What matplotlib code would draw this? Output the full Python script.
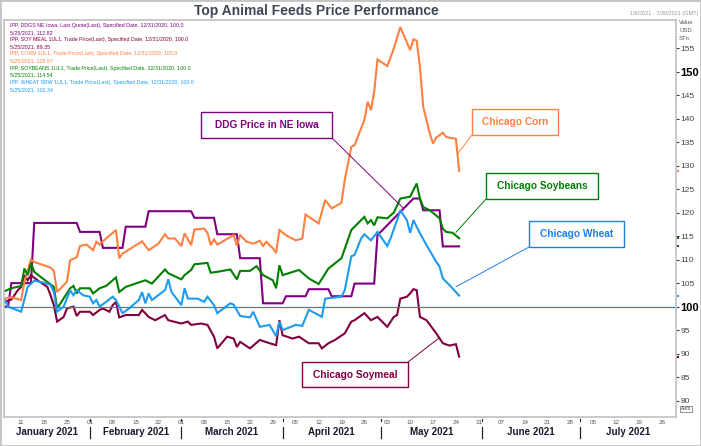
import matplotlib
matplotlib.use("Agg")
import matplotlib.pyplot as plt
import matplotlib.dates as mdates
import matplotlib.transforms as mtransforms
from matplotlib.patches import Rectangle, ConnectionPatch
import pandas as pd

plt.rcParams['font.family'] = ['Liberation Sans', 'DejaVu Sans']

title = "Top Animal Feeds Price Performance"
range_label = "1/6/2021 - 7/30/2021 (GMT)"
unit_labels = ["Value", "USD", "STn"]

# ---- data (index, 12/31/2020 = 100) ----
ddgs_dates = ["01-06", "01-07", "01-08", "01-14", "01-15", "01-28", "01-29", "02-04", "02-05",
              "02-11", "02-12", "02-18", "02-19", "03-04", "03-05", "03-11", "03-12", "03-18",
              "03-19", "03-25", "03-26", "04-01", "04-02", "04-08", "04-09", "04-15", "04-16",
              "04-22", "04-23", "04-29", "04-30", "05-11", "05-13", "05-14", "05-19", "05-20", "05-25"]
ddgs_vals = [100.0, 100.0, 105.0, 105.0, 117.8, 117.8, 115.9, 115.9, 112.5,
             112.5, 117.0, 117.0, 120.3, 120.3, 118.9, 118.9, 115.4, 115.4,
             110.3, 110.3, 100.7, 100.7, 102.2, 102.2, 103.7, 103.7, 102.2,
             102.2, 104.9, 104.9, 115.2, 123.0, 123.0, 120.5, 120.5, 112.8, 112.82]

corn_dates = ["01-06", "01-08", "01-11", "01-12", "01-14", "01-15", "01-20", "01-21", "01-22",
              "01-25", "01-26", "01-28", "01-29", "01-31", "02-02", "02-03", "02-04", "02-06",
              "02-09", "02-10", "02-11", "02-12", "02-17", "02-19", "02-22", "02-24", "02-25",
              "02-27", "03-01", "03-02", "03-04", "03-05", "03-08", "03-09", "03-10", "03-11",
              "03-12", "03-17", "03-18", "03-19", "03-21", "03-23", "03-25", "03-26", "03-27",
              "03-29", "03-30", "03-31", "04-02", "04-05", "04-07", "04-08", "04-12", "04-14",
              "04-16", "04-19", "04-20", "04-22", "04-23", "04-26", "04-27", "04-28", "04-29",
              "04-30", "05-03", "05-05", "05-07", "05-10", "05-11", "05-12", "05-13", "05-14",
              "05-16", "05-17", "05-18", "05-20", "05-21", "05-24", "05-25"]
corn_vals = [101.7, 102.0, 101.4, 105.3, 110.0, 109.5, 108.3, 107.6, 103.1,
             105.3, 109.9, 110.5, 112.9, 113.2, 112.0, 113.8, 113.2, 114.5,
             116.3, 110.3, 111.3, 111.7, 113.9, 112.0, 113.4, 115.4, 114.5,
             114.5, 112.9, 115.6, 113.1, 116.4, 116.6, 115.7, 113.1, 114.3,
             113.2, 115.2, 113.0, 115.2, 113.8, 113.4, 114.0, 112.9, 113.8,
             112.4, 111.4, 116.3, 115.2, 114.1, 114.5, 119.6, 117.7, 122.7,
             120.9, 122.1, 127.0, 134.0, 134.4, 139.7, 143.6, 141.8, 145.7,
             152.6, 151.2, 154.9, 159.5, 154.6, 156.9, 156.6, 151.0, 142.5,
             136.9, 134.7, 136.0, 137.0, 136.1, 135.7, 128.87]

soyb_dates = ["01-06", "01-08", "01-11", "01-12", "01-13", "01-14", "01-15", "01-17", "01-21",
              "01-22", "01-26", "01-27", "01-28", "01-29", "02-01", "02-02", "02-04", "02-06",
              "02-09", "02-10", "02-12", "02-18", "02-20", "02-24", "02-25", "03-01", "03-02",
              "03-04", "03-05", "03-09", "03-10", "03-12", "03-16", "03-18", "03-19", "03-22",
              "03-24", "03-26", "03-29", "03-30", "03-31", "04-01", "04-06", "04-09", "04-12",
              "04-15", "04-19", "04-22", "04-24", "04-26", "04-27", "04-28", "04-29", "04-30",
              "05-03", "05-05", "05-07", "05-10", "05-12", "05-13", "05-14", "05-16", "05-19",
              "05-20", "05-21", "05-23", "05-25"]
soyb_vals = [103.3, 103.9, 104.4, 108.1, 106.7, 109.2, 107.4, 106.3, 104.2,
             99.6, 103.9, 104.4, 102.8, 103.9, 103.9, 102.8, 103.9, 104.4,
             106.2, 103.1, 104.2, 105.6, 104.9, 107.9, 107.1, 105.8, 106.7,
             107.8, 109.0, 109.3, 107.2, 107.4, 107.9, 105.8, 107.6, 107.6,
             108.6, 106.7, 105.6, 103.9, 108.8, 106.7, 107.8, 106.0, 104.8,
             108.1, 110.3, 116.3, 117.7, 119.1, 117.7, 118.4, 117.3, 119.0,
             118.8, 120.0, 123.0, 123.4, 126.2, 123.0, 121.2, 120.5, 118.8,
             116.6, 115.9, 115.7, 114.54]

wheat_dates = ["01-06", "01-07", "01-11", "01-13", "01-15", "01-18", "01-20", "01-21", "01-22",
               "01-24", "01-26", "01-27", "01-28", "01-30", "02-01", "02-02", "02-03", "02-04",
               "02-06", "02-08", "02-09", "02-11", "02-13", "02-16", "02-17", "02-18", "02-19",
               "02-20", "02-24", "02-25", "02-26", "03-01", "03-02", "03-03", "03-06", "03-08",
               "03-09", "03-11", "03-12", "03-16", "03-17", "03-19", "03-22", "03-23", "03-25",
               "03-28", "03-30", "03-31", "04-01", "04-05", "04-07", "04-09", "04-12", "04-13",
               "04-14", "04-19", "04-20", "04-22", "04-23", "04-25", "04-26", "04-28", "04-30",
               "05-03", "05-04", "05-06", "05-07", "05-09", "05-10", "05-11", "05-13", "05-15",
               "05-18", "05-19", "05-20", "05-22", "05-25"]
wheat_vals = [101.4, 100.0, 98.9, 104.2, 105.5, 105.1, 104.6, 103.1, 98.9,
              100.0, 103.5, 102.4, 103.5, 102.4, 102.1, 100.7, 101.4, 100.0,
              101.0, 102.1, 101.4, 98.6, 99.6, 101.4, 103.1, 100.7, 102.8,
              101.4, 103.5, 105.8, 103.1, 100.3, 103.9, 101.7, 101.7, 101.0,
              102.1, 100.3, 98.6, 100.7, 100.4, 98.0, 97.7, 98.9, 95.7,
              96.1, 93.7, 96.8, 95.0, 96.1, 95.9, 99.3, 98.2, 97.8,
              101.7, 102.1, 103.5, 110.7, 111.0, 114.5, 115.4, 114.1, 115.9,
              112.9, 114.5, 118.4, 120.5, 118.4, 115.7, 118.4, 115.6, 113.1,
              109.5, 108.5, 106.0, 104.6, 102.34]

meal_dates = ["01-06", "01-08", "01-10", "01-11", "01-12", "01-13", "01-14", "01-16", "01-19",
              "01-20", "01-21", "01-22", "01-24", "01-25", "01-27", "01-28", "01-29", "02-01",
              "02-02", "02-04", "02-05", "02-07", "02-08", "02-09", "02-10", "02-12", "02-16",
              "02-17", "02-19", "02-21", "02-24", "02-25", "03-01", "03-03", "03-04", "03-07",
              "03-09", "03-11", "03-12", "03-15", "03-17", "03-18", "03-19", "03-22", "03-25",
              "03-28", "03-30", "03-31", "04-01", "04-04", "04-06", "04-09", "04-12", "04-13",
              "04-15", "04-17", "04-20", "04-22", "04-23", "04-26", "04-28", "04-30", "05-03",
              "05-05", "05-06", "05-07", "05-09", "05-10", "05-11", "05-12", "05-13", "05-15",
              "05-18", "05-20", "05-22", "05-24", "05-25"]
meal_vals = [101.0, 101.5, 103.5, 104.2, 106.7, 105.6, 106.7, 105.6, 104.2,
             102.4, 100.3, 96.8, 97.8, 99.6, 100.0, 98.0, 98.9, 98.9,
             98.2, 99.3, 99.6, 98.9, 100.3, 101.0, 97.7, 98.2, 98.2,
             99.3, 97.8, 97.1, 98.2, 97.1, 96.4, 96.8, 96.1, 96.4,
             96.1, 93.6, 91.1, 93.6, 93.2, 91.4, 92.5, 91.1, 92.9,
             92.2, 91.8, 97.1, 93.9, 93.2, 93.6, 92.2, 92.2, 91.1,
             92.2, 92.9, 94.3, 96.8, 97.1, 98.6, 97.1, 97.8, 95.7,
             97.8, 98.2, 101.7, 102.1, 102.8, 103.7, 103.5, 97.8, 97.1,
             94.3, 92.2, 91.7, 92.0, 89.35]

legend_lines = [
    ("IPP, DDGS NE Iowa, Last Quote(Last), Specified Date, 12/31/2020, 100.0", "5/25/2021, 112.82"),
    ("IPP, SOY MEAL 1UL1, Trade Price(Last), Specified Date, 12/31/2020, 100.0", "5/25/2021, 89.35"),
    ("IPP, CORN 1UL1, Trade Price(Last), Specified Date, 12/31/2020, 100.0", "5/25/2021, 128.87"),
    ("IPP, SOYBEANS 1UL1, Trade Price(Last), Specified Date, 12/31/2020, 100.0", "5/25/2021, 114.54"),
    ("IPP, WHEAT SRW 1UL1, Trade Price(Last), Specified Date, 12/31/2020, 100.0", "5/25/2021, 102.34"),
]

c_ddgs = "#800080"
c_meal = "#800040"
c_corn = "#ff8040"
c_soyb = "#008000"
c_wheat = "#1e9bf0"

series = [
    (ddgs_dates, ddgs_vals, c_ddgs),
    (meal_dates, meal_vals, c_meal),
    (corn_dates, corn_vals, c_corn),
    (soyb_dates, soyb_vals, c_soyb),
    (wheat_dates, wheat_vals, c_wheat),
]
legend_colors = [c_ddgs, c_meal, c_corn, c_soyb, c_wheat]

# callouts: label, colour, box (px: left, top, right, bottom), corner used, target point
callouts = [
    ("DDG Price in NE Iowa", c_ddgs, (201, 112, 332, 138), "br", ("2021-05-08", 120.9)),
    ("Chicago Corn", c_corn, (472, 109, 558, 135), "bl", ("2021-05-24 12:00", 132.5)),
    ("Chicago Soybeans", c_soyb, (486, 173, 598, 199), "bl", ("2021-05-24", 115.8)),
    ("Chicago Wheat", "#1e7fe6", (529, 221, 624, 247), "bl", ("2021-05-24", 104.2)),
    ("Chicago Soymeal", c_meal, (302, 362, 408, 387), "tr", ("2021-05-19", 93.4)),
]

W, H = 701, 446


def fx(px):
    return px / W


def fy(py):
    return 1 - py / H


fig = plt.figure(figsize=(W / 100, H / 100), dpi=100)
fig.patches.append(Rectangle((0, 0), 1, 1, transform=fig.transFigure, fill=False,
                             edgecolor="#c4c4c4", lw=2))
ax = fig.add_axes([fx(4), fy(417), fx(676) - fx(4), fy(20) - fy(417)])

for dates, vals, col in series:
    x = pd.to_datetime(["2021-" + d for d in dates])
    ax.plot(x, vals, color=col, lw=1.5, solid_joinstyle="miter")

ax.axhline(100, color="#1e88e5", lw=0.9)

x0 = pd.Timestamp("2021-01-06") - pd.Timedelta(hours=6)
x1 = pd.Timestamp("2021-07-30") + pd.Timedelta(hours=8)
ax.set_xlim(x0, x1)
ax.set_ylim(76.5, 161)

for sp in ax.spines.values():
    sp.set_color("#c0c0c0")
    sp.set_linewidth(1.2)

# bottom: weekly day numbers, month names
mondays = pd.date_range("2021-01-11", "2021-07-26", freq="7D")
ax.set_xticks(mondays)
ax.set_xticklabels([d.strftime("%d") for d in mondays])
ax.tick_params(axis="x", length=0, pad=2.5, labelsize=4.5, labelcolor="#555555")

bt = mtransforms.blended_transform_factory(ax.transData, ax.transAxes)
month_starts = pd.date_range("2021-01-01", "2021-08-01", freq="MS")
for a, b in zip(month_starts[:-1], month_starts[1:]):
    lo, hi = max(a, x0), min(b, x1)
    mid = lo + (hi - lo) / 2
    ax.text(mid, -0.038, a.strftime("%B %Y"), transform=bt, ha="center", va="center",
            fontsize=7, fontweight="bold", color="#1a1a2e")
    if a > x0:
        ax.plot([a, a], [-0.024, -0.052], transform=bt, color="#222222", lw=0.9,
                clip_on=False)
        ax.plot([a, a], [-0.004, -0.009], transform=bt, color="#222222", lw=0.8,
                clip_on=False)

# right value axis
ticks = list(range(80, 160, 5))
ax.yaxis.tick_right()
ax.set_yticks(ticks)
ax.set_yticklabels([str(t) for t in ticks])
ax.tick_params(axis="y", length=2, width=0.8, pad=1, labelsize=6, colors="#333333",
               labelcolor="#444444")
for lbl, t in zip(ax.get_yticklabels(), ticks):
    if t in (100, 150):
        lbl.set_fontweight("bold")
        lbl.set_fontsize(8)
        lbl.set_color("black")

rt = mtransforms.blended_transform_factory(ax.transAxes, ax.transData)
for dates, vals, col in series:
    ax.plot([1.003], [vals[-1]], marker="s", ms=2.0, mew=0, color=col, transform=rt,
            clip_on=False)

for i, s in enumerate(unit_labels):
    fig.text(fx(679), fy(23 + i * 7.5), s, fontsize=4.2, color="#555555",
             ha="left", va="center")

fig.text(fx(686), fy(409), "Auto", fontsize=3.6, color="#444444", ha="center", va="center",
         bbox=dict(boxstyle="square,pad=0.12", fc="white", ec="#666666", lw=0.5))

# title and header text
fig.text(fx(316), fy(11), title, fontsize=10, fontweight="bold", color="#3d4856",
         ha="center", va="center")
fig.text(fx(698), fy(14), range_label, fontsize=4, color="#999999", ha="right", va="center")

# legend block
y = 25.5
for (l1, l2), col in zip(legend_lines, legend_colors):
    for s in (l1, l2):
        fig.text(fx(10), fy(y), s, fontsize=3.8, color=col, ha="left", va="center",
                 family=["Liberation Sans Narrow", "Liberation Sans", "DejaVu Sans"])
        y += 7.1

# callout boxes with leader lines
for label, col, (l, t, r, b), corner, (td, tv) in callouts:
    fig.patches.append(Rectangle((fx(l), fy(b)), fx(r) - fx(l), fy(t) - fy(b),
                                 transform=fig.transFigure, fc="white", ec=col, lw=1.0,
                                 zorder=5))
    fig.text(fx((l + r) / 2), fy((t + b) / 2), label, fontsize=7.3, fontweight="bold",
             color=col, ha="center", va="center", zorder=6)
    cx = l if corner[1] == "l" else r
    cy = b if corner[0] == "b" else t
    con = ConnectionPatch(xyA=(fx(cx), fy(cy)), coordsA=fig.transFigure,
                          xyB=(mdates.date2num(pd.Timestamp(td)), tv), coordsB=ax.transData,
                          color=col, lw=0.7, zorder=4)
    fig.add_artist(con)

fig.savefig("out.png", dpi=100)
